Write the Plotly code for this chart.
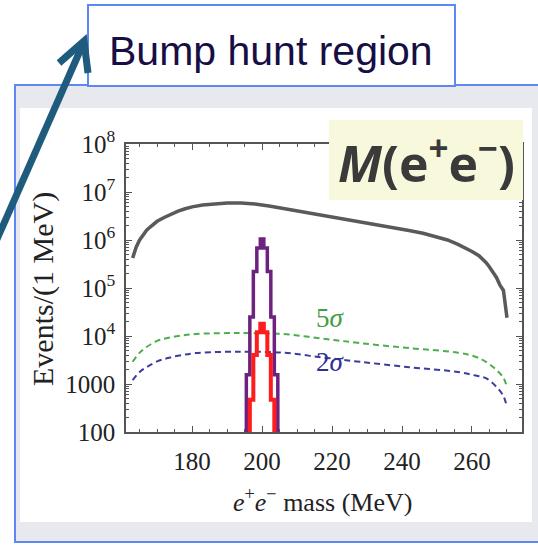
import plotly.graph_objects as go

# ---- data -------------------------------------------------------------
# QED background, events per 1 MeV
bkg_mass = [163, 164, 165, 166, 167, 168, 169, 170, 172, 174, 176, 178, 180,
            183, 186, 190, 194, 198, 202, 206, 210, 214, 218, 222, 226, 230,
            234, 238, 242, 246, 250, 253, 256, 258, 260, 262, 263, 264, 265,
            266, 267, 268, 269, 270]
bkg_events = [4.2e5, 7.1e5, 1.0e6, 1.26e6, 1.6e6, 1.86e6, 2.14e6, 2.45e6,
              2.95e6, 3.47e6, 3.98e6, 4.47e6, 4.9e6, 5.37e6, 5.62e6, 5.89e6,
              5.89e6, 5.62e6, 5.13e6, 4.57e6, 4.07e6, 3.63e6, 3.24e6, 2.88e6,
              2.57e6, 2.29e6, 2.04e6, 1.78e6, 1.58e6, 1.38e6, 1.17e6, 1.0e6,
              8.1e5, 6.9e5, 5.75e5, 4.7e5, 4.1e5, 3.4e5, 2.75e5, 2.2e5,
              1.66e5, 1.15e5, 8.9e4, 2.4e4]

# discovery (5 sigma) and exclusion (2 sigma) signal levels
sig_mass = [163, 165, 167, 170, 173, 177, 181, 190, 196, 206, 217, 228, 242,
            256, 261, 264, 267, 269, 270]
five_sigma = [2.9e3, 4.5e3, 5.9e3, 7.9e3, 9.1e3, 1.02e4, 1.1e4, 1.15e4,
              1.15e4, 1.1e4, 8.9e3, 7.1e3, 5.6e3, 4.5e3, 3.7e3, 2.9e3,
              1.95e3, 1.35e3, 830]
two_sigma = [1.2e3, 1.78e3, 2.24e3, 2.95e3, 3.47e3, 4.0e3, 4.4e3, 4.7e3,
             4.7e3, 4.5e3, 3.6e3, 2.9e3, 2.24e3, 1.78e3, 1.5e3, 1.32e3,
             870, 560, 330]

# signal peaks at 200 MeV, 1 MeV bins
big_bins = [196, 197, 198, 199, 200, 201, 202, 203, 204]
big_signal = [1.55e3, 2.5e4, 2.2e5, 6.8e5, 1.05e6, 6.8e5, 2.2e5, 2.5e4, 1.55e3]
small_bins = [197, 198, 199, 200, 201, 202, 203]
small_signal = [470, 4.0e3, 1.2e4, 1.8e4, 1.2e4, 4.0e3, 470]

x_ticks = [180, 200, 220, 240, 260]
y_ticks = [100, 1000, 1e4, 1e5, 1e6, 1e7, 1e8]
y_ticktext = ["100", "1000", "10<sup>4</sup>", "10<sup>5</sup>",
              "10<sup>6</sup>", "10<sup>7</sup>", "10<sup>8</sup>"]

# ---- helpers ----------------------------------------------------------
W, H = 538, 545


def px(x):
    return x / W


def py(y):
    return 1 - y / H


def step_outline(centers, values, width=1.0, floor=1.0):
    edges = [c - width / 2 for c in centers] + [centers[-1] + width / 2]
    xs = [edges[0]] + edges
    ys = [floor] + list(values) + [floor]
    return xs, ys


SERIF = "Liberation Serif"
fig = go.Figure()

fig.add_trace(go.Scatter(x=bkg_mass, y=bkg_events, mode="lines",
                         line=dict(color="#5a5a5a", width=3.5),
                         showlegend=False))
fig.add_trace(go.Scatter(x=sig_mass, y=five_sigma, mode="lines",
                         line=dict(color="#4caf4c", width=2, dash="6px,4px",
                                   shape="spline"),
                         showlegend=False))
fig.add_trace(go.Scatter(x=sig_mass, y=two_sigma, mode="lines",
                         line=dict(color="#3c3ca0", width=2, dash="6px,4px",
                                   shape="spline"),
                         showlegend=False))
bx, by = step_outline(big_bins, big_signal)
fig.add_trace(go.Scatter(x=bx, y=by, mode="lines",
                         line=dict(color="#6e2280", width=3.5, shape="hv"),
                         showlegend=False))
sx, sy = step_outline(small_bins, small_signal)
fig.add_trace(go.Scatter(x=sx, y=sy, mode="lines",
                         line=dict(color="#ff1c1c", width=4, shape="hv"),
                         showlegend=False))

axis_common = dict(showline=True, linecolor="#555", linewidth=1.5,
                   mirror="ticks", ticks="inside", tickcolor="#555",
                   tickwidth=1, showgrid=False, zeroline=False,
                   automargin=False,
                   tickfont=dict(family=SERIF, size=25, color="#222"))

fig.update_xaxes(range=[161.1, 274.3], domain=[px(126), px(522)],
                 tickvals=x_ticks, ticklen=6, ticklabelstandoff=6,
                 minor=dict(ticks="inside", ticklen=3, dtick=5,
                            tickcolor="#555"),
                 **axis_common)
fig.update_yaxes(type="log", range=[2, 8], domain=[py(432), py(144)],
                 tickvals=y_ticks, ticktext=y_ticktext, ticklen=6,
                 ticklabelstandoff=4,
                 minor=dict(ticks="inside", ticklen=3, dtick="D1",
                            tickcolor="#555"),
                 **axis_common)

shapes = [
    # slide panel with blue outline and grey rim
    dict(type="rect", xref="paper", yref="paper", layer="below",
         x0=px(15), x1=px(570), y0=py(542), y1=py(85),
         fillcolor="#e8e9ee", line=dict(color="#5d88f2", width=2)),
    dict(type="rect", xref="paper", yref="paper", layer="below",
         x0=px(20), x1=px(532), y0=py(522), y1=py(108),
         fillcolor="white", line=dict(width=0)),
    # label box for the invariant mass
    dict(type="rect", xref="paper", yref="paper", layer="above",
         x0=px(329), x1=px(523), y0=py(200), y1=py(120),
         fillcolor="#f8f8dc", line=dict(width=0)),
    # title box
    dict(type="rect", xref="paper", yref="paper", layer="above",
         x0=px(88), x1=px(455), y0=py(86), y1=py(5),
         fillcolor="white", line=dict(color="#5d88f2", width=2)),
    # pointer arrow: shaft and head
    dict(type="path", xref="paper", yref="paper", layer="above",
         path=f"M{px(-6)},{py(246)} L{px(83)},{py(44)}",
         line=dict(color="#1f5b7d", width=7)),
    dict(type="path", xref="paper", yref="paper", layer="above",
         path=f"M{px(59)},{py(63)} L{px(84)},{py(41)} L{px(88)},{py(73)}",
         line=dict(color="#1f5b7d", width=7)),
]

annotations = [
    dict(text="Bump hunt region", x=px(271), y=py(51), xref="paper",
         yref="paper", showarrow=False, xanchor="center", yanchor="middle",
         font=dict(family="Liberation Sans", size=41, color="#170e45")),
    dict(text="<b><i>M</i>(e<sup>+</sup>e<sup>\u2212</sup>)</b>", x=px(426),
         y=py(160), xref="paper", yref="paper", showarrow=False,
         xanchor="center", yanchor="middle",
         font=dict(family="Open Sans", size=50, color="#3a3a3a")),
    dict(text="5<i>\u03c3</i>", x=px(330), y=py(318), xref="paper",
         yref="paper", showarrow=False, xanchor="center", yanchor="middle",
         font=dict(family=SERIF, size=27, color="#3f9e3f")),
    dict(text="2<i>\u03c3</i>", x=px(330), y=py(362), xref="paper",
         yref="paper", showarrow=False, xanchor="center", yanchor="middle",
         font=dict(family=SERIF, size=27, color="#2e2e96")),
    dict(text="<i>e</i><sup>+</sup><i>e</i><sup>\u2212</sup> mass (MeV)",
         x=px(322), y=py(500), xref="paper", yref="paper", showarrow=False,
         xanchor="center", yanchor="middle",
         font=dict(family=SERIF, size=26, color="#222")),
    dict(text="Events/(1 MeV)", x=px(43), y=py(289), xref="paper",
         yref="paper", showarrow=False, textangle=-90, xanchor="center",
         yanchor="middle", font=dict(family=SERIF, size=30, color="#222")),
]

fig.update_layout(width=W, height=H,
                  margin=dict(l=0, r=0, t=0, b=0, autoexpand=False),
                  paper_bgcolor="white", plot_bgcolor="white",
                  shapes=shapes, annotations=annotations, showlegend=False)

fig.write_html("out.html")
